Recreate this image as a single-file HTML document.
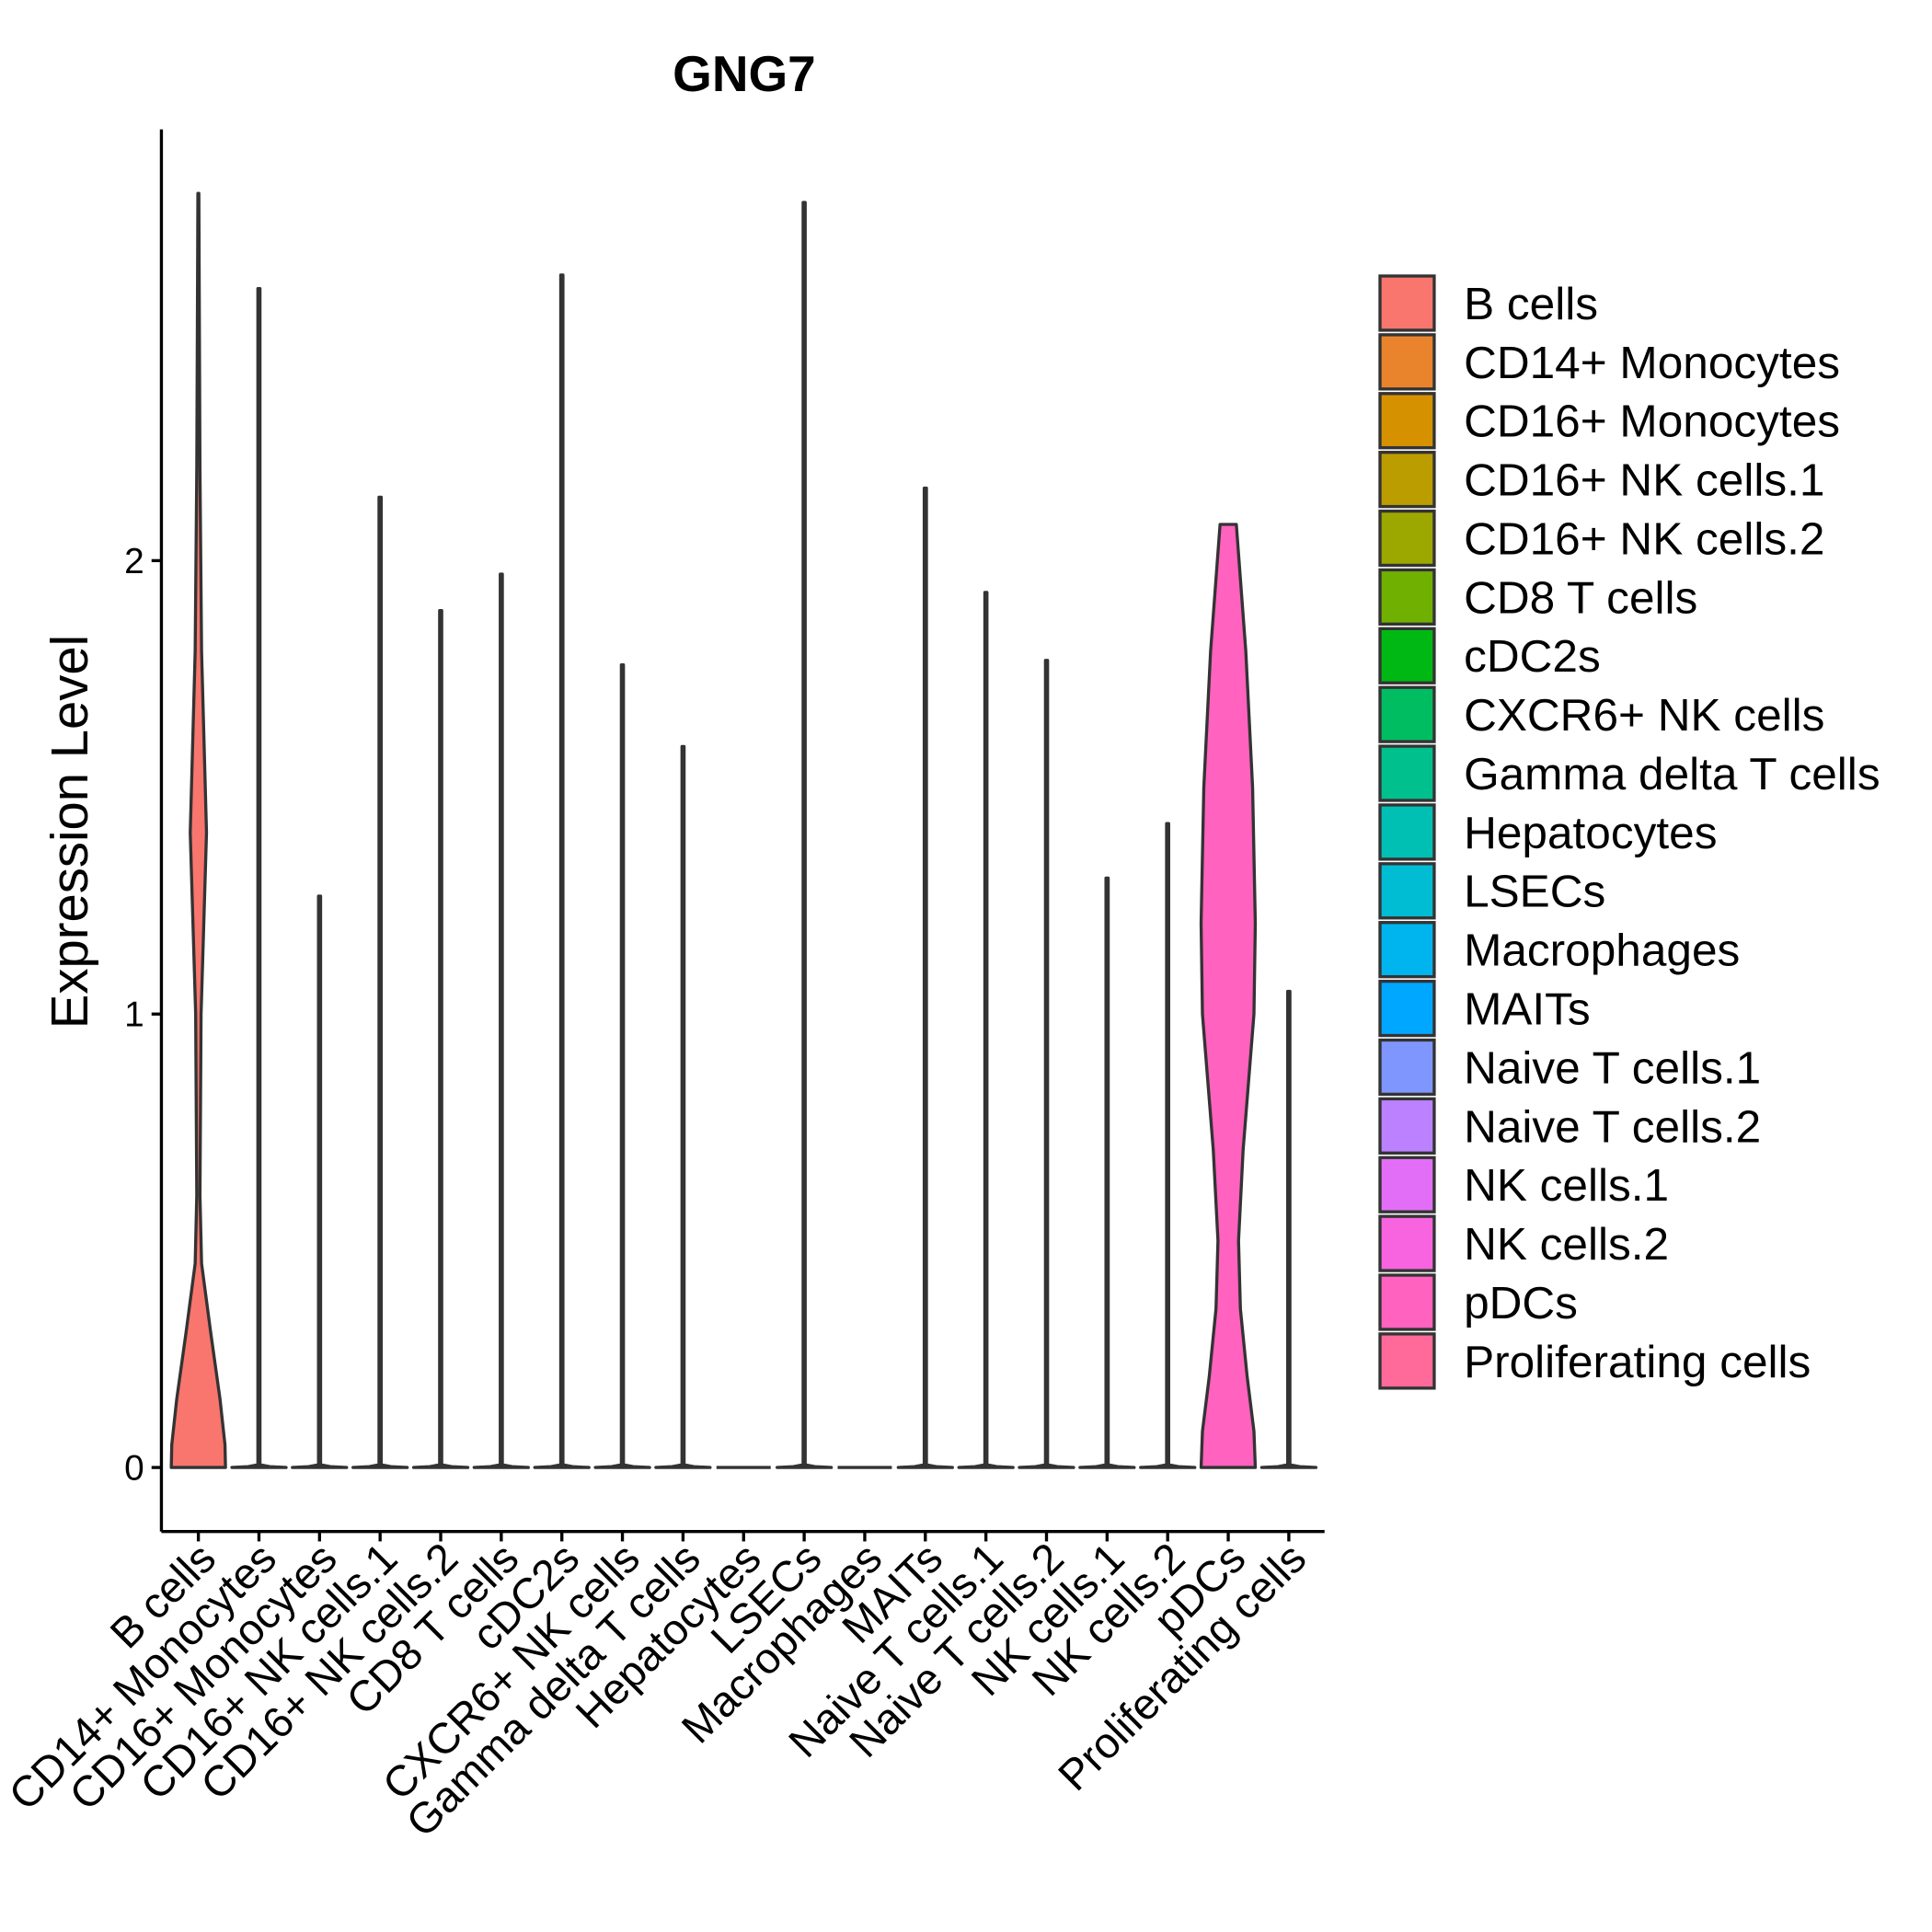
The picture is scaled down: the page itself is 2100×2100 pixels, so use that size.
<!DOCTYPE html>
<html><head><meta charset="utf-8"><style>
html,body{margin:0;padding:0;background:#fff}
svg{display:block}
text{font-family:"Liberation Sans",Arial,sans-serif;fill:#000}
</style></head><body>
<svg id="chart" width="2100" height="2100" viewBox="0 0 1568 1568" xmlns="http://www.w3.org/2000/svg">
<text x="604" y="74" font-size="41" font-weight="bold" text-anchor="middle">GNG7</text>
<text transform="translate(71,675) rotate(-90)" font-size="42" text-anchor="middle">Expression Level</text>
<g id="plot"></g>
<g id="legend"></g>
</svg>
<script>
const categories=["B cells","CD14+ Monocytes","CD16+ Monocytes","CD16+ NK cells.1","CD16+ NK cells.2","CD8 T cells","cDC2s","CXCR6+ NK cells","Gamma delta T cells","Hepatocytes","LSECs","Macrophages","MAITs","Naive T cells.1","Naive T cells.2","NK cells.1","NK cells.2","pDCs","Proliferating cells"];
const colors=["#F8766D","#E9842C","#D69100","#BC9D00","#9CA700","#6FB000","#00B813","#00BD61","#00C08E","#00C0B4","#00BDD4","#00B5EE","#00A7FF","#7F96FF","#BC81FF","#E26EF7","#F863DF","#FF62BF","#FF6A9A"];
const maxValues=[2.81,2.60,1.26,2.14,1.89,1.97,2.63,1.77,1.59,0,2.79,0,2.16,1.93,1.78,1.30,1.42,2.08,1.05];
const yTicks=[0,1,2];
// density profiles: [value, relative half-width]
const bCellsProfile=[[0,1],[0.05,0.98],[0.15,0.8],[0.3,0.45],[0.45,0.12],[0.6,0.06],[1.0,0.1],[1.4,0.3],[1.8,0.12],[2.2,0.06],[2.6,0.03],[2.81,0.02]];
const pDCsProfile=[[0,1],[0.08,0.95],[0.2,0.7],[0.35,0.45],[0.5,0.38],[0.7,0.55],[1.0,0.95],[1.2,1.0],[1.5,0.9],[1.8,0.65],[2.0,0.4],[2.08,0.3]];

const x0=131,x1=1075,yTop=105,yBot=1243;
const maxHW=22;
function xScale(i){return 161+i*(1046-161)/18;}
function yScale(v){return 1191-v*368;}
const NS="http://www.w3.org/2000/svg";
const plot=document.getElementById('plot');
function mk(tag,attrs,parent){const e=document.createElementNS(NS,tag);for(const k in attrs)e.setAttribute(k,attrs[k]);(parent||plot).appendChild(e);return e;}

categories.forEach((c,i)=>{
  let prof;
  if(i===0)prof=bCellsProfile;else if(i===17)prof=pDCsProfile;
  else if(maxValues[i]===0)prof=[[0,1],[0,1]];
  else prof=[[0,1],[0.002,0.4],[0.006,0.04],[maxValues[i],0.04]];
  const cx=xScale(i);
  let right=[],left=[];
  if(maxValues[i]===0){
    const p=mk('line',{x1:cx-maxHW,x2:cx+maxHW,y1:yScale(0),y2:yScale(0),stroke:'#333',"stroke-width":2.5});
    
    
    return;
  }
  prof.forEach(([v,w])=>{right.push([cx+w*maxHW,yScale(v)]);left.unshift([cx-w*maxHW,yScale(v)]);});
  const pts=right.concat(left);
  let d="M"+pts.map(p=>p[0].toFixed(1)+","+p[1].toFixed(1)).join("L")+"Z";
  const p=mk('path',{d:d,fill:colors[i],stroke:'#333',"stroke-width":2.5,"stroke-linejoin":"round"});
  
  
});

// axes
const ya=mk('line',{x1:x0,x2:x0,y1:yTop,y2:yBot,stroke:'#000',"stroke-width":2.5});

const xa=mk('line',{x1:x0,x2:x1,y1:yBot,y2:yBot,stroke:'#000',"stroke-width":2.5});

yTicks.forEach(t=>{
  const l=mk('line',{x1:x0-8,x2:x0,y1:yScale(t),y2:yScale(t),stroke:'#000',"stroke-width":2.5});
  
  const tx=mk('text',{x:x0-14,y:yScale(t)+10,"font-size":29,"text-anchor":"end"});
  tx.textContent=t;
  
});
categories.forEach((c,i)=>{
  const cx=xScale(i);
  const l=mk('line',{x1:cx,x2:cx,y1:yBot,y2:yBot+8,stroke:'#000',"stroke-width":2.5});
  
  const tx=mk('text',{transform:`translate(${cx+16},${yBot+24}) rotate(-45)`,"font-size":35,"text-anchor":"end"});
  tx.textContent=c;
  
});
// legend
const lg=document.getElementById('legend');

categories.forEach((c,i)=>{
  const y=224+i*47.7;
  const g=mk('g',{},lg);
  
  
  mk('rect',{x:1120,y:y,width:44,height:44,fill:colors[i],stroke:'#333',"stroke-width":2.5},g);
  const t=mk('text',{x:1188,y:y+35,"font-size":37},g);
  t.textContent=c;
});
</script>
</body></html>
